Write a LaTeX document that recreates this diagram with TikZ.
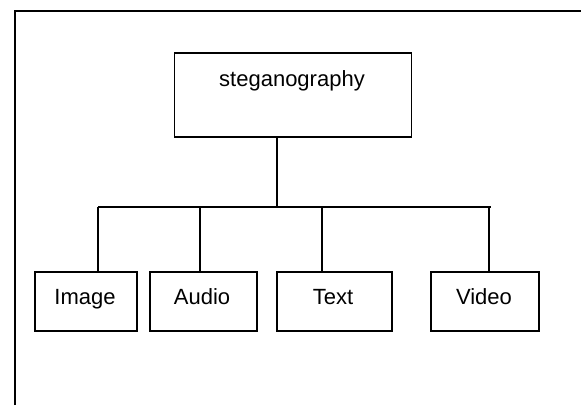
\documentclass[tikz,border=0pt]{standalone}
\usepackage{fontspec}
\setmainfont{Liberation Sans}
\begin{document}
\begin{tikzpicture}[x=1pt,y=-1pt,
  boxstyle/.style={draw=black, line width=1.5pt, rectangle, inner sep=0pt, anchor=north west},
  lbl/.style={font=\fontsize{22}{26}\selectfont, inner sep=0pt, anchor=base},
  conn/.style={draw=black, line width=1.5pt}]
\useasboundingbox (0,0) rectangle (581,405);
% frame (top and left only)
\coordinate (ftl) at (15,11);
\coordinate (ftr) at (581,11);
\coordinate (fbl) at (15,405);
\draw[line width=1.8pt] (fbl) -- (ftl) -- (ftr);
% top box
\node[boxstyle, minimum width=237pt, minimum height=84pt] (root) at (173.5,52) {};
\node[lbl] (rootlbl) at (292,86) {steganography};
% children
\node[boxstyle, minimum width=102pt, minimum height=59pt] (img) at (34,271) {};
\node[lbl] (imglbl) at (85,304) {Image};
\node[boxstyle, minimum width=107pt, minimum height=59pt] (aud) at (149,271) {};
\node[lbl] (audlbl) at (202,304) {Audio};
\node[boxstyle, minimum width=115pt, minimum height=59pt] (txt) at (276,271) {};
\node[lbl] (txtlbl) at (333,304) {Text};
\node[boxstyle, minimum width=108pt, minimum height=59pt] (vid) at (430,271) {};
\node[lbl] (vidlbl) at (484,304) {Video};
% bus
\coordinate (stem) at (277,207);
\coordinate (busl) at (98,207);
\coordinate (busr) at (491,207);
\coordinate (dimg) at (98,207);
\coordinate (daud) at (200,207);
\coordinate (dtxt) at (322,207);
\coordinate (dvid) at (489,207);
\draw[conn] (root.south -| stem) -- (stem);
\draw[conn] (busl) -- (busr);
\draw[conn] (dimg) -- (dimg |- img.north);
\draw[conn] (daud) -- (daud |- aud.north);
\draw[conn] (dtxt) -- (dtxt |- txt.north);
\draw[conn] (dvid) -- (dvid |- vid.north);
\end{tikzpicture}
\end{document}
